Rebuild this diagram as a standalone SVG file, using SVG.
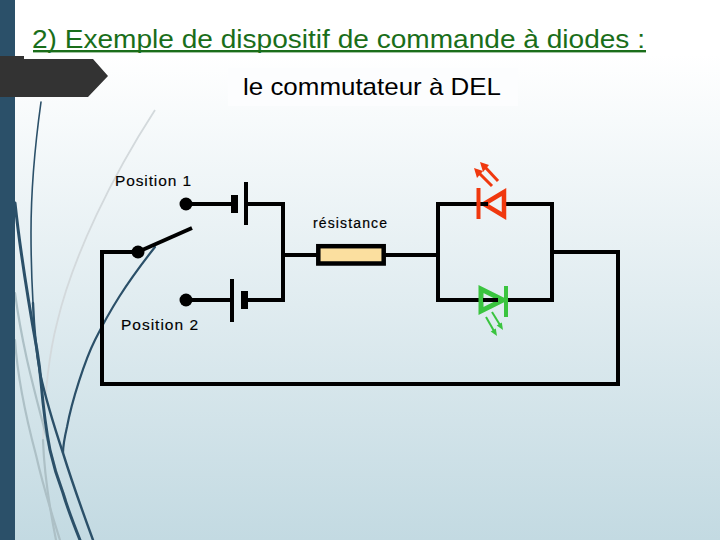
<svg xmlns="http://www.w3.org/2000/svg" width="720" height="540" viewBox="0 0 720 540">
<defs>
<linearGradient id="bg" x1="0" y1="0" x2="0" y2="1"><stop offset="0" stop-color="#ffffff"/><stop offset="0.1" stop-color="#ffffff"/><stop offset="1" stop-color="#c3dae2"/></linearGradient>
</defs>
<style>
.w{fill:none;stroke:#000;stroke-width:4;stroke-linejoin:miter}
.lbl{font-family:"Liberation Sans",Arial,sans-serif;font-size:15.500px;fill:#000;stroke:#000;stroke-width:.15}
.d{fill:none;stroke:#2b5069;stroke-linecap:round}
.g{fill:none;stroke:#adc0c6;stroke-linecap:round}
</style>
<rect width="720" height="540" fill="url(#bg)"/>
<g id="decor">
<path fill="none" stroke="#d3d9dc" stroke-width="1.800" d="M155 110C113 175 73 255 57 323C50 350 45 385 43 440"/>
<path class="g" stroke-width="2.200" d="M43 440C44 470 48 500 56 540"/>
<path class="g" stroke-width="2.200" d="M15 293C22 345 33 385 42 420C50 450 56 475 66 500"/>
<path class="g" stroke-width="2.200" d="M15 340C18 385 28 425 36 455C44 490 52 515 60 540"/>
<path class="d" stroke-width="1.600" d="M41 102C35 145 31 190 31 233C31 265 32 285 33 303"/>
<path class="d" stroke-width="2.400" d="M33 303C34 330 36 350 40 373C46 400 56 432 63 453C72 482 82 510 93 540"/>
<path class="d" stroke-width="3" d="M15 203C20 250 29 305 37 350C39 362 40 370 41 382C43 405 46 430 50 450C54 468 58 480 63 493C68 510 74 525 80 540"/>
<path class="d" stroke-width="2.200" d="M155 247C125 285 110 310 95 340C85 360 72 400 67 427C64 440 63 447 63 453"/>
</g>
<rect x="0" y="0" width="15" height="540" fill="#2b5069"/>
<polygon points="0,56 24,56 24,59 93,59 108,76 88,97 80,97 0,97" fill="#333333"/>
<text x="32" y="48" font-family="'Liberation Sans',Arial,sans-serif" font-size="26" fill="#1a6e1a" textLength="613" lengthAdjust="spacingAndGlyphs">2) Exemple de dispositif de commande à diodes :</text>
<rect x="33" y="50" width="613" height="2.400" fill="#1a6e1a"/>
<rect id="sub-bg" x="228" y="68" width="290" height="38" fill="#fcfdfe"/>
<text x="243" y="95" font-family="'Liberation Sans',Arial,sans-serif" font-size="24" fill="#000" textLength="258" lengthAdjust="spacingAndGlyphs">le commutateur à DEL</text>
<g id="connectors">
<polyline class="w" points="186,204 233,204"/>
<polyline class="w" points="246,204 283,204 283,300 246,300"/>
<polyline class="w" points="186,300 233,300"/>
<polyline class="w" points="283,255 318,255"/>
<polyline class="w" points="384,255 438,255"/>
<polyline class="w" points="480,204 438,204 438,300 482,300"/>
<polyline class="w" points="504,204 552,204 552,300 505,300"/>
<polyline class="w" points="552,252 618,252 618,384 102,384 102,252 138,252"/>
</g>
<g id="switch">
<circle cx="138" cy="252" r="6.500" fill="#000"/>
<line x1="140" y1="251" x2="192" y2="228" stroke="#000" stroke-width="4"/>
</g>
<g id="contact-1"><circle cx="186" cy="204" r="6.500" fill="#000"/><text class="lbl" x="115" y="186" textLength="76">Position 1</text></g>
<g id="contact-2"><circle cx="186" cy="300" r="6.500" fill="#000"/><text class="lbl" x="121" y="330" textLength="77">Position 2</text></g>
<g id="battery-1"><rect x="231" y="195" width="7" height="18" fill="#000"/><rect x="244" y="182" width="4" height="43" fill="#000"/></g>
<g id="battery-2"><rect x="230" y="279" width="4" height="43" fill="#000"/><rect x="241" y="291" width="7" height="18" fill="#000"/></g>
<g id="resistor"><rect x="318.300" y="246.200" width="65.400" height="17.300" fill="#fbdf9f" stroke="#000" stroke-width="4.500"/><text class="lbl" x="313" y="228" textLength="74" style="font-size:14px;stroke-width:.2">résistance</text></g>
<g id="led-red" fill="none" stroke="#f0380e">
<polygon points="484,204 504,192 504,216" stroke-width="4.500"/>
<line x1="478" y1="204" x2="488" y2="204" stroke="#000" stroke-width="4"/>
<line x1="478.500" y1="188" x2="478.500" y2="219" stroke-width="4"/>
<line x1="492" y1="186" x2="479" y2="173" stroke-width="3"/>
<polygon points="474,168 483,171 477,178" fill="#f0380e" stroke="none"/>
<line x1="498" y1="181" x2="485" y2="167" stroke-width="3"/>
<polygon points="480,162 489,165 483,172" fill="#f0380e" stroke="none"/>
</g>
<g id="led-green" fill="none" stroke="#3ac43f">
<polygon points="481,289 481,311 503,300" stroke-width="5"/>
<line x1="483" y1="300" x2="498" y2="300" stroke="#000" stroke-width="4"/>
<line x1="506" y1="286" x2="506" y2="317" stroke-width="4"/>
<line x1="486" y1="317" x2="494" y2="331" stroke-width="2"/>
<polygon points="497,336 495.800,328.400 490.700,331.600" fill="#3ac43f" stroke="none"/>
<line x1="492" y1="312" x2="500" y2="325" stroke-width="2"/>
<polygon points="503,330 501.800,322.400 496.700,325.600" fill="#3ac43f" stroke="none"/>
</g>
</svg>
